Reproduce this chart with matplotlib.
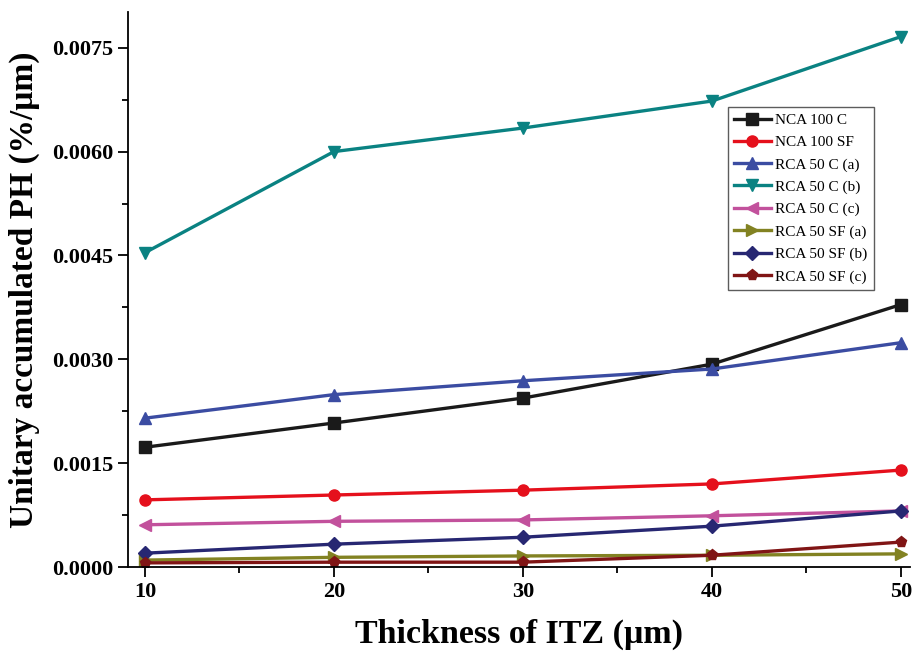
import matplotlib.pyplot as plt
import numpy as np

plt.rcParams['font.family'] = ['Liberation Serif', 'DejaVu Serif']

thickness = [10, 20, 30, 40, 50]

nca_100_c = [0.00173, 0.00208, 0.00244, 0.00293, 0.00379]
nca_100_sf = [0.00097, 0.00104, 0.00111, 0.00120, 0.00140]
rca_50_c_a = [0.00215, 0.00249, 0.00269, 0.00286, 0.00324]
rca_50_c_b = [0.00454, 0.00600, 0.00634, 0.00673, 0.00766]
rca_50_c_c = [0.00061, 0.00066, 0.00068, 0.00074, 0.00081]
rca_50_sf_a = [0.00010, 0.00014, 0.00016, 0.00017, 0.00019]
rca_50_sf_b = [0.00020, 0.00033, 0.00043, 0.00059, 0.00081]
rca_50_sf_c = [0.00006, 0.00007, 0.00007, 0.00017, 0.00036]

series = [
    ("NCA 100 C", nca_100_c, "#1a1a1a", "s"),
    ("NCA 100 SF", nca_100_sf, "#e5101c", "o"),
    ("RCA 50 C (a)", rca_50_c_a, "#3b4ca2", "^"),
    ("RCA 50 C (b)", rca_50_c_b, "#0a8282", "v"),
    ("RCA 50 C (c)", rca_50_c_c, "#c2519c", "<"),
    ("RCA 50 SF (a)", rca_50_sf_a, "#828222", ">"),
    ("RCA 50 SF (b)", rca_50_sf_b, "#272772", "D"),
    ("RCA 50 SF (c)", rca_50_sf_c, "#801515", "p"),
]

fig = plt.figure(figsize=(9.14, 6.51), dpi=100)
ax = fig.add_axes([0.14, 0.129, 0.856, 0.853])

for name, vals, color, mk in series:
    ms = 7 if mk == "D" else 8
    ax.plot(thickness, vals, color=color, marker=mk, lw=2.4, ms=ms, label=name)

ax.set_xlim(9.1, 50.5)
ax.set_ylim(0, 0.00802)
ax.set_xticks(thickness)
ax.set_xticks([15, 25, 35, 45], minor=True)
ax.set_yticks([0, 0.0015, 0.0030, 0.0045, 0.0060, 0.0075])
ax.set_yticks([0.00075, 0.00225, 0.00375, 0.00525, 0.00675], minor=True)
ax.set_yticklabels(["0.0000", "0.0015", "0.0030", "0.0045", "0.0060", "0.0075"])

for side in ("top", "right"):
    ax.spines[side].set_visible(False)
for side in ("left", "bottom"):
    ax.spines[side].set_linewidth(1.3)

ax.tick_params(which="major", direction="out", length=7, width=1.3, labelsize=16)
ax.tick_params(which="minor", direction="out", length=4, width=1.3)
for lbl in ax.get_xticklabels() + ax.get_yticklabels():
    lbl.set_fontweight("bold")

ax.set_xlabel("Thickness of ITZ (\u03bcm)", fontsize=24.5, fontweight="bold", labelpad=12)
ax.set_ylabel("Unitary accumulated PH (%/\u03bcm)", fontsize=24, fontweight="bold", labelpad=9)

leg = ax.legend(loc="upper left", bbox_to_anchor=(0.757, 0.842), fontsize=11,
                frameon=True, fancybox=False, edgecolor="#333333",
                handlelength=2.4, borderpad=0.4, labelspacing=0.56, handletextpad=0.3)
leg.get_frame().set_linewidth(1.0)

fig.savefig("out.png", dpi=100)
